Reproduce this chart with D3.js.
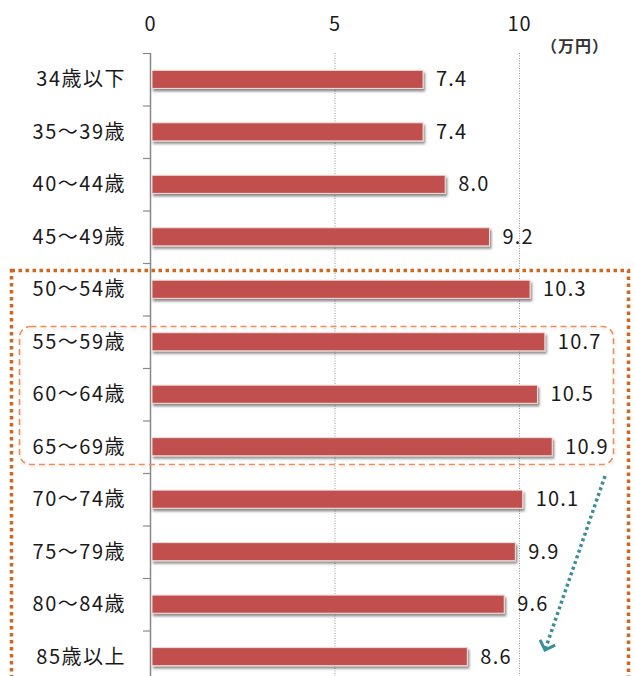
<!DOCTYPE html>
<html><head><meta charset="utf-8">
<script src="https://cdn.jsdelivr.net/npm/d3@7"></script>
<style>body{margin:0;background:#fff}svg{display:block}text{font-family:"Noto Sans CJK JP","Noto Sans",sans-serif}</style>
</head><body><svg id="c" width="635" height="676"></svg>
<script>
const categories = ["34歳以下","35～39歳","40～44歳","45～49歳","50～54歳","55～59歳","60～64歳","65～69歳","70～74歳","75～79歳","80～84歳","85歳以上"];
const values = [7.4,7.4,8.0,9.2,10.3,10.7,10.5,10.9,10.1,9.9,9.6,8.6];
const xTicks = [0,5,10];
const unitLabel = "（万円）";

const svg = d3.select("#c");
const x = d3.scaleLinear().domain([0,10]).range([150,519]);
const y = d3.scaleBand().domain(categories).range([53,683]).paddingInner(0.655).paddingOuter(0.33);
const band = 52.5;

const defs = svg.append("defs");
const f = defs.append("filter").attr("id","sh").attr("x","-5%").attr("y","-30%").attr("width","110%").attr("height","180%");
f.append("feDropShadow").attr("dx",1.5).attr("dy",2.5).attr("stdDeviation",1.3).attr("flood-color","#000").attr("flood-opacity",0.45);
const f2 = defs.append("filter").attr("id","sh2").attr("x","-5%").attr("y","-10%").attr("width","110%").attr("height","120%");
f2.append("feDropShadow").attr("dx",1).attr("dy",1.5).attr("stdDeviation",1.5).attr("flood-color","#000").attr("flood-opacity",0.15);
const m = defs.append("marker").attr("id","ah").attr("viewBox","0 0 20 20").attr("refX",10).attr("refY",10)
  .attr("markerWidth",20).attr("markerHeight",20).attr("markerUnits","userSpaceOnUse").attr("orient","auto");
m.append("path").attr("d","M2,2 L10,10 L2,18").attr("fill","none").attr("stroke","#3A8F95").attr("stroke-width",3);

// grid lines
svg.append("g").selectAll("line").data(xTicks.filter(d=>d>0)).join("line")
  .attr("x1",d=>x(d)+0.5).attr("x2",d=>x(d)+0.5).attr("y1",53).attr("y2",676)
  .attr("stroke","#999").attr("stroke-width",1).attr("stroke-dasharray","1,1.5");

// top axis labels
const ax = svg.append("g").attr("transform","translate(0,31)").call(d3.axisTop(x).tickValues(xTicks).tickSize(0).tickPadding(0));
ax.select(".domain").remove();
ax.selectAll("text").attr("font-size",20).attr("fill","#1a1a1a").style("letter-spacing","1px").style("font-family",'"Noto Sans CJK JP",sans-serif');

svg.append("text").attr("x",575).attr("y",52).attr("text-anchor","middle").attr("font-size",16).attr("font-weight","bold").attr("fill","#333").style("letter-spacing","1px").text(unitLabel);

// left axis
const yl = svg.append("g").attr("transform","translate(150,0)").call(d3.axisLeft(y).tickSize(0).tickPadding(24));
yl.select(".domain").remove();
yl.selectAll("text").attr("font-size",20).attr("fill","#1a1a1a").attr("dy","0.35em").style("letter-spacing","1.5px").style("font-family",'"Noto Sans CJK JP",sans-serif');
svg.append("line").attr("x1",150.5).attr("x2",150.5).attr("y1",53).attr("y2",676).attr("stroke","#888").attr("stroke-width",1.5);
svg.append("g").selectAll("line").data(d3.range(categories.length+1)).join("line")
  .attr("x1",143).attr("x2",150).attr("y1",i=>53+i*band+0.5).attr("y2",i=>53+i*band+0.5).attr("stroke","#888").attr("stroke-width",1.2);

// bars
svg.append("g").selectAll("rect").data(values).join("rect")
  .attr("x",x(0)+2).attr("y",(d,i)=>y(categories[i])).attr("width",d=>x(d)-x(0)-2).attr("height",y.bandwidth())
  .attr("fill","#C0504D").attr("stroke","#F2DCDB").attr("stroke-width",1).attr("filter","url(#sh)");

// value labels
svg.append("g").selectAll("text").data(values).join("text")
  .attr("x",d=>x(d)+13).attr("y",(d,i)=>y(categories[i])+y.bandwidth()/2).attr("dy","0.35em")
  .attr("font-size",20).attr("fill","#1a1a1a").style("letter-spacing","1.2px").text(d=>d.toFixed(1));

// highlight boxes
svg.append("rect").attr("x",11.5).attr("y",270.5).attr("width",617).attr("height",420)
  .attr("fill","none").attr("stroke","#D0661F").attr("stroke-width",3.5).attr("stroke-dasharray","3.5,3.5");
svg.append("rect").attr("x",19.5).attr("y",326.5).attr("width",594).attr("height",138).attr("rx",11)
  .attr("fill","none").attr("stroke","#EE8E58").attr("stroke-width",1.6).attr("stroke-dasharray","6,4").attr("filter","url(#sh2)");

// arrow
svg.append("line").attr("x1",605).attr("y1",476).attr("x2",545).attr("y2",650)
  .attr("stroke","#3A8F95").attr("stroke-width",3.5).attr("stroke-dasharray","3,3").attr("marker-end","url(#ah)");
</script></body></html>
